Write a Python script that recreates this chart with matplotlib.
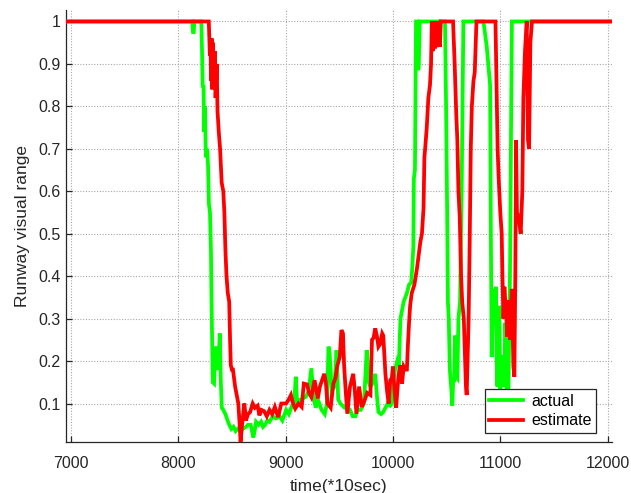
import matplotlib
matplotlib.use("Agg")
import matplotlib.pyplot as plt

# ---------------- data ----------------
t_actual = [6952, 8130, 8138, 8145, 8150, 8215, 8222, 8228, 8236, 8242, 8250, 8256, 8262, 8270,
            8278, 8286, 8296, 8305, 8310, 8316, 8322, 8334, 8345, 8356, 8366, 8376, 8387, 8397,
            8406, 8420, 8440, 8460, 8475, 8495, 8515, 8535, 8553, 8575, 8600, 8631, 8650, 8675,
            8700, 8712, 8725, 8750, 8772, 8790, 8810, 8830, 8850, 8880, 8910, 8945, 8970, 9005,
            9030, 9060, 9080, 9095, 9108, 9130, 9160, 9190, 9215, 9240, 9260, 9280, 9300, 9335,
            9365, 9385, 9400, 9410, 9430, 9455, 9475, 9490, 9510, 9550, 9580, 9600, 9625, 9650,
            9670, 9700, 9730, 9756, 9775, 9790, 9815, 9835, 9850, 9865, 9890, 9910, 9930, 9950,
            9975, 9990, 10005, 10020, 10040, 10055, 10070, 10085, 10100, 10115, 10130, 10150,
            10170, 10180, 10190, 10195, 10205, 10215, 10225, 10232, 10240, 10250, 10430, 10437,
            10443, 10485, 10495, 10505, 10512, 10520, 10530, 10545, 10553, 10562, 10570, 10578,
            10585, 10592, 10600, 10610, 10625, 10640, 10656, 10843, 10874, 10905, 10912, 10920,
            10936, 10948, 10960, 10966, 10973, 10982, 10990, 11000, 11013, 11030, 11038, 11045,
            11054, 11060, 11068, 11075, 11085, 11092, 11100, 11108, 12041]
v_actual = [1, 1, 0.975, 0.975, 1, 1, 0.93, 0.845, 0.85, 0.74, 0.80, 0.70, 0.68, 0.70,
            0.66, 0.57, 0.55, 0.46, 0.35, 0.25, 0.15, 0.147, 0.22, 0.234, 0.18, 0.20, 0.265, 0.15,
            0.09, 0.085, 0.075, 0.06, 0.05, 0.04, 0.045, 0.035, 0.04, 0.045, 0.04, 0.045, 0.05, 0.05,
            0.02, 0.035, 0.057, 0.05, 0.057, 0.045, 0.05, 0.06, 0.057, 0.07, 0.065, 0.07, 0.06, 0.085,
            0.075, 0.095, 0.10, 0.163, 0.10, 0.108, 0.112, 0.116, 0.13, 0.183, 0.12, 0.09, 0.11, 0.085,
            0.075, 0.10, 0.234, 0.22, 0.13, 0.14, 0.226, 0.11, 0.10, 0.09, 0.09, 0.085, 0.07, 0.07,
            0.085, 0.085, 0.10, 0.226, 0.15, 0.14, 0.15, 0.17, 0.12, 0.08, 0.075, 0.08, 0.09, 0.10,
            0.095, 0.10, 0.155, 0.18, 0.20, 0.19, 0.30, 0.32, 0.34, 0.35, 0.36, 0.38,
            0.385, 0.42, 0.47, 0.63, 0.65, 1.0, 1.0, 0.886, 0.89, 1.0, 1.0, 0.95,
            1.0, 1.0, 0.80, 0.55, 0.34, 0.30, 0.18, 0.13, 0.095, 0.16, 0.15, 0.26,
            0.24, 0.163, 0.16, 0.30, 0.34, 0.60, 1.0, 1.0, 0.94, 0.85, 0.50, 0.21,
            0.37, 0.29, 0.375, 0.20, 0.14, 0.25, 0.33, 0.13, 0.21, 0.21, 0.14, 0.29,
            0.25, 0.10, 0.06, 0.12, 0.30, 0.45, 0.75, 1.0, 1.0]

t_estimate = [6952, 8285, 8295, 8300, 8306, 8312, 8318, 8325, 8332, 8340, 8348, 8359, 8366, 8378,
              8390, 8405, 8420, 8430, 8440, 8450, 8462, 8475, 8483, 8490, 8500, 8510, 8520, 8530,
              8545, 8560, 8570, 8581, 8595, 8616, 8631, 8650, 8670, 8694, 8715, 8740, 8756, 8775,
              8800, 8825, 8850, 8875, 8900, 8930, 8960, 8985, 9005, 9030, 9050, 9070, 9090, 9120,
              9150, 9170, 9200, 9220, 9240, 9270, 9300, 9320, 9360, 9375, 9390, 9420, 9445, 9465,
              9480, 9505, 9520, 9535, 9545, 9560, 9575, 9600, 9630, 9645, 9660, 9685, 9710, 9740,
              9760, 9790, 9805, 9820, 9835, 9850, 9865, 9880, 9900, 9910, 9930, 9945, 9960, 9975,
              9990, 10000, 10015, 10030, 10050, 10065, 10085, 10100, 10115, 10130, 10140, 10150,
              10160, 10175, 10200, 10225, 10240, 10255, 10270, 10285, 10293, 10300, 10315, 10330,
              10345, 10355, 10362, 10370, 10378, 10385, 10392, 10400, 10410, 10420, 10430, 10438,
              10445, 10560, 10575, 10590, 10600, 10610, 10622, 10635, 10645, 10660, 10670, 10680,
              10687, 10695, 10705, 10715, 10725, 10735, 10750, 10762, 10778, 10955, 10967, 10975,
              10985, 11000, 11013, 11020, 11029, 11038, 11054, 11066, 11075, 11091, 11107, 11122,
              11131, 11140, 11147, 11155, 11170, 11190, 11205, 11215, 11230, 11246, 11258, 11268,
              11280, 11295, 12041]
v_estimate = [1, 1, 0.92, 0.96, 0.86, 0.96, 0.84, 0.95, 0.86, 0.93, 0.82, 0.90, 0.79, 0.74,
              0.70, 0.62, 0.60, 0.55, 0.46, 0.40, 0.36, 0.34, 0.25, 0.19, 0.18, 0.18, 0.16, 0.14,
              0.12, 0.10, 0.06, 0.01, 0.05, 0.10, 0.06, 0.075, 0.08, 0.10, 0.09, 0.095, 0.072, 0.085,
              0.082, 0.07, 0.085, 0.075, 0.092, 0.068, 0.10, 0.10, 0.10, 0.11, 0.12, 0.10, 0.088, 0.10,
              0.092, 0.147, 0.145, 0.124, 0.115, 0.155, 0.112, 0.14, 0.17, 0.15, 0.10, 0.09, 0.147, 0.16,
              0.187, 0.21, 0.273, 0.265, 0.19, 0.13, 0.076, 0.14, 0.17, 0.13, 0.076, 0.14, 0.092, 0.11,
              0.125, 0.12, 0.25, 0.255, 0.277, 0.26, 0.234, 0.24, 0.265, 0.26, 0.17, 0.13, 0.10, 0.155,
              0.16, 0.187, 0.13, 0.09, 0.16, 0.19, 0.147, 0.187, 0.18, 0.18, 0.24, 0.29,
              0.33, 0.36, 0.38, 0.42, 0.45, 0.48, 0.50, 0.56, 0.68, 0.70, 0.75, 0.82,
              0.85, 0.90, 1.0, 0.93, 1.0, 0.94, 0.94, 1.0, 0.94, 0.95, 1.0, 0.94,
              1.0, 1.0, 0.90, 0.78, 0.72, 0.60, 0.54, 0.40, 0.34, 0.30, 0.22, 0.14,
              0.12, 0.20, 0.30, 0.48, 0.70, 0.80, 0.86, 0.88, 1.0, 1.0, 0.82, 0.70,
              0.63, 0.55, 0.50, 0.40, 0.30, 0.375, 0.31, 0.257, 0.344, 0.25, 0.37, 0.187,
              0.163, 0.40, 0.72, 0.55, 0.54, 0.50, 0.60, 0.82, 0.93, 1.0, 0.72, 0.70,
              0.95, 1.0, 1.0]

x_ticks = [7000, 8000, 9000, 10000, 11000, 12000]
y_ticks = [0.1, 0.2, 0.3, 0.4, 0.5, 0.6, 0.7, 0.8, 0.9, 1.0]
y_ticklabels = ["0.1", "0.2", "0.3", "0.4", "0.5", "0.6", "0.7", "0.8", "0.9", "1"]
series_names = ["actual", "estimate"]

# ---------------- plot ----------------
plt.rcParams['font.family'] = ['Liberation Sans', 'DejaVu Sans']

fig = plt.figure(figsize=(6.31, 4.93), dpi=100)
ax = fig.add_axes([0.1041, 0.104, 0.8659, 0.8757])

ax.plot(t_actual, v_actual, color='#00FF00', lw=2.7, label=series_names[0], zorder=3,
        solid_joinstyle='miter')
ax.plot(t_estimate, v_estimate, color='#FF0000', lw=2.7, label=series_names[1], zorder=4,
        solid_joinstyle='miter')

ax.set_xlim(6952, 12041)
ax.set_ylim(0.01, 1.027)
ax.set_xticks(x_ticks)
ax.set_yticks(y_ticks)
ax.set_yticklabels(y_ticklabels)

ax.grid(True, linestyle=(0, (1, 1.5)), color='#a8a8a8', linewidth=0.8)
ax.set_axisbelow(True)

for s in ['top', 'right']:
    ax.spines[s].set_visible(False)
for s in ['left', 'bottom']:
    ax.spines[s].set_color('#262626')
    ax.spines[s].set_linewidth(0.9)

ax.tick_params(direction='in', length=4, width=0.9, colors='#262626', labelsize=11.5,
               labelcolor='#262626')
ax.tick_params(axis='x', pad=10)

ax.set_xlabel('time(*10sec)', fontsize=12.5, color='#262626', labelpad=6)
ax.set_ylabel('Runway visual range', fontsize=12.5, color='#262626', labelpad=6)

leg = ax.legend(loc='lower right', bbox_to_anchor=(0.971, 0.02), fontsize=11.5,
                frameon=True, fancybox=False, handlelength=2.1, borderpad=0.3,
                labelspacing=0.3, handletextpad=0.5, borderaxespad=0.0)
leg.get_frame().set_edgecolor('#262626')
leg.get_frame().set_linewidth(0.9)
leg.get_frame().set_alpha(1.0)
leg.set_zorder(10)

fig.savefig('out.png', dpi=100)
